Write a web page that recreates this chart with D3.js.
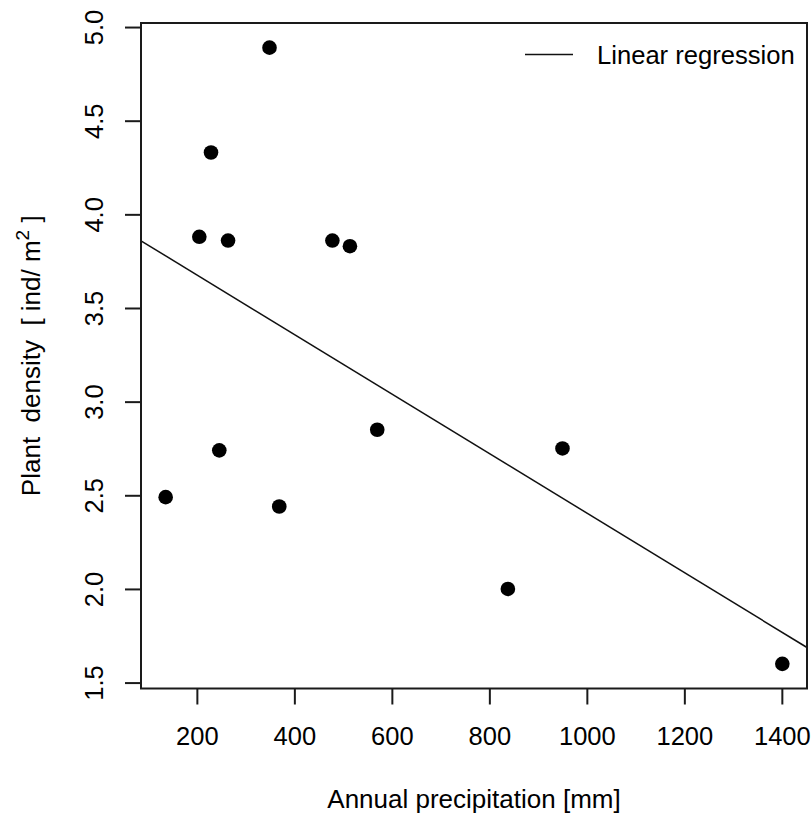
<!DOCTYPE html>
<html lang="en">
<head>
<meta charset="UTF-8">
<title>Plant density vs precipitation</title>
<script src="https://d3js.org/d3.v7.min.js"></script>
<style>
  body { margin: 0; background: #fff; }
  text { font-family: "Liberation Sans", Arial, sans-serif; fill: #000; }
</style>
</head>
<body>
<script>
// data
const precip  = [136, 205, 229, 246, 264, 349, 369, 478, 514, 570, 838, 950, 1401];
const density = [2.49, 3.88, 4.33, 2.74, 3.86, 4.89, 2.44, 3.86, 3.83, 2.85, 2.00, 2.75, 1.60];
const xTicks = [200, 400, 600, 800, 1000, 1200, 1400];
const yTicks = [1.5, 2.0, 2.5, 3.0, 3.5, 4.0, 4.5, 5.0];
const legendLabel = "Linear regression";

const W = 811, H = 814;
const box = {left: 141, top: 23, right: 807, bottom: 688.5};
const fsTick = 25.5, fsLab = 26;

const points = precip.map((p, i) => ({x: p, y: density[i]}));

// R style axis extent: data range padded by 4%
function pad(ext) {
  const r = ext[1] - ext[0];
  return [ext[0] - 0.04 * r, ext[1] + 0.04 * r];
}
const x = d3.scaleLinear().domain(pad(d3.extent(precip))).range([box.left, box.right]);
const y = d3.scaleLinear().domain(pad(d3.extent(density))).range([box.bottom, box.top]);

// least squares fit (like abline(lm(...)))
const mx = d3.mean(precip), my = d3.mean(density);
const slope = d3.sum(points, d => (d.x - mx) * (d.y - my)) / d3.sum(points, d => (d.x - mx) ** 2);
const intercept = my - slope * mx;

const svg = d3.select("body").append("svg")
  .attr("width", W).attr("height", H);

svg.append("clipPath").attr("id", "plotclip")
  .append("rect")
  .attr("x", box.left).attr("y", box.top)
  .attr("width", box.right - box.left).attr("height", box.bottom - box.top);

// regression line
const xd = x.domain();
svg.append("line")
  .attr("clip-path", "url(#plotclip)")
  .attr("x1", x(xd[0])).attr("y1", y(intercept + slope * xd[0]))
  .attr("x2", x(xd[1])).attr("y2", y(intercept + slope * xd[1]))
  .attr("stroke", "#111").attr("stroke-width", 1.5);

// points
svg.selectAll("circle.pt").data(points).enter()
  .append("circle").attr("class", "pt")
  .attr("cx", d => x(d.x)).attr("cy", d => y(d.y))
  .attr("r", 7.3).attr("fill", "#000");

// plot box
svg.append("rect")
  .attr("x", box.left).attr("y", box.top)
  .attr("width", box.right - box.left).attr("height", box.bottom - box.top)
  .attr("fill", "none").attr("stroke", "#1a1a1a").attr("stroke-width", 2);

// x axis
const xAxis = svg.append("g").attr("transform", `translate(0,${box.bottom})`)
  .call(d3.axisBottom(x).tickValues(xTicks).tickSize(16).tickPadding(22).tickFormat(d3.format("d")));
xAxis.select(".domain").remove();
xAxis.selectAll("line").attr("stroke", "#1a1a1a").attr("stroke-width", 2);
xAxis.selectAll("text").attr("font-size", fsTick).attr("fill", "#000")
  .attr("font-family", "Liberation Sans, Arial, sans-serif");

// y axis, rotated labels like R las=0
const yAxis = svg.append("g").attr("transform", `translate(${box.left},0)`)
  .call(d3.axisLeft(y).tickValues(yTicks).tickSize(16).tickFormat(d3.format(".1f")));
yAxis.select(".domain").remove();
yAxis.selectAll("line").attr("stroke", "#1a1a1a").attr("stroke-width", 2);
yAxis.selectAll("text")
  .attr("font-size", fsTick).attr("fill", "#000")
  .attr("font-family", "Liberation Sans, Arial, sans-serif")
  .attr("x", null).attr("dy", null)
  .attr("text-anchor", "middle")
  .attr("transform", "translate(-38,0) rotate(-90)");

// axis titles
svg.append("text")
  .attr("x", (box.left + box.right) / 2).attr("y", 808)
  .attr("text-anchor", "middle").attr("font-size", fsLab)
  .text("Annual precipitation [mm]");

const yTitle = svg.append("text")
  .attr("transform", `translate(40,${(box.top + box.bottom) / 2}) rotate(-90)`)
  .attr("text-anchor", "middle").attr("font-size", fsLab)
  .style("white-space", "pre");
yTitle.append("tspan").text("Plant  density  [ ind/ m");
yTitle.append("tspan").attr("dy", -11).attr("font-size", 19).text("2");
yTitle.append("tspan").attr("dy", 11).text(" ]");

// legend
const lg = svg.append("g");
lg.append("line")
  .attr("x1", 525).attr("x2", 573).attr("y1", 54.5).attr("y2", 54.5)
  .attr("stroke", "#111").attr("stroke-width", 1.5);
lg.append("text").attr("x", 597).attr("y", 63.5)
  .attr("font-size", 25.6).text(legendLabel);
</script>
</body>
</html>
